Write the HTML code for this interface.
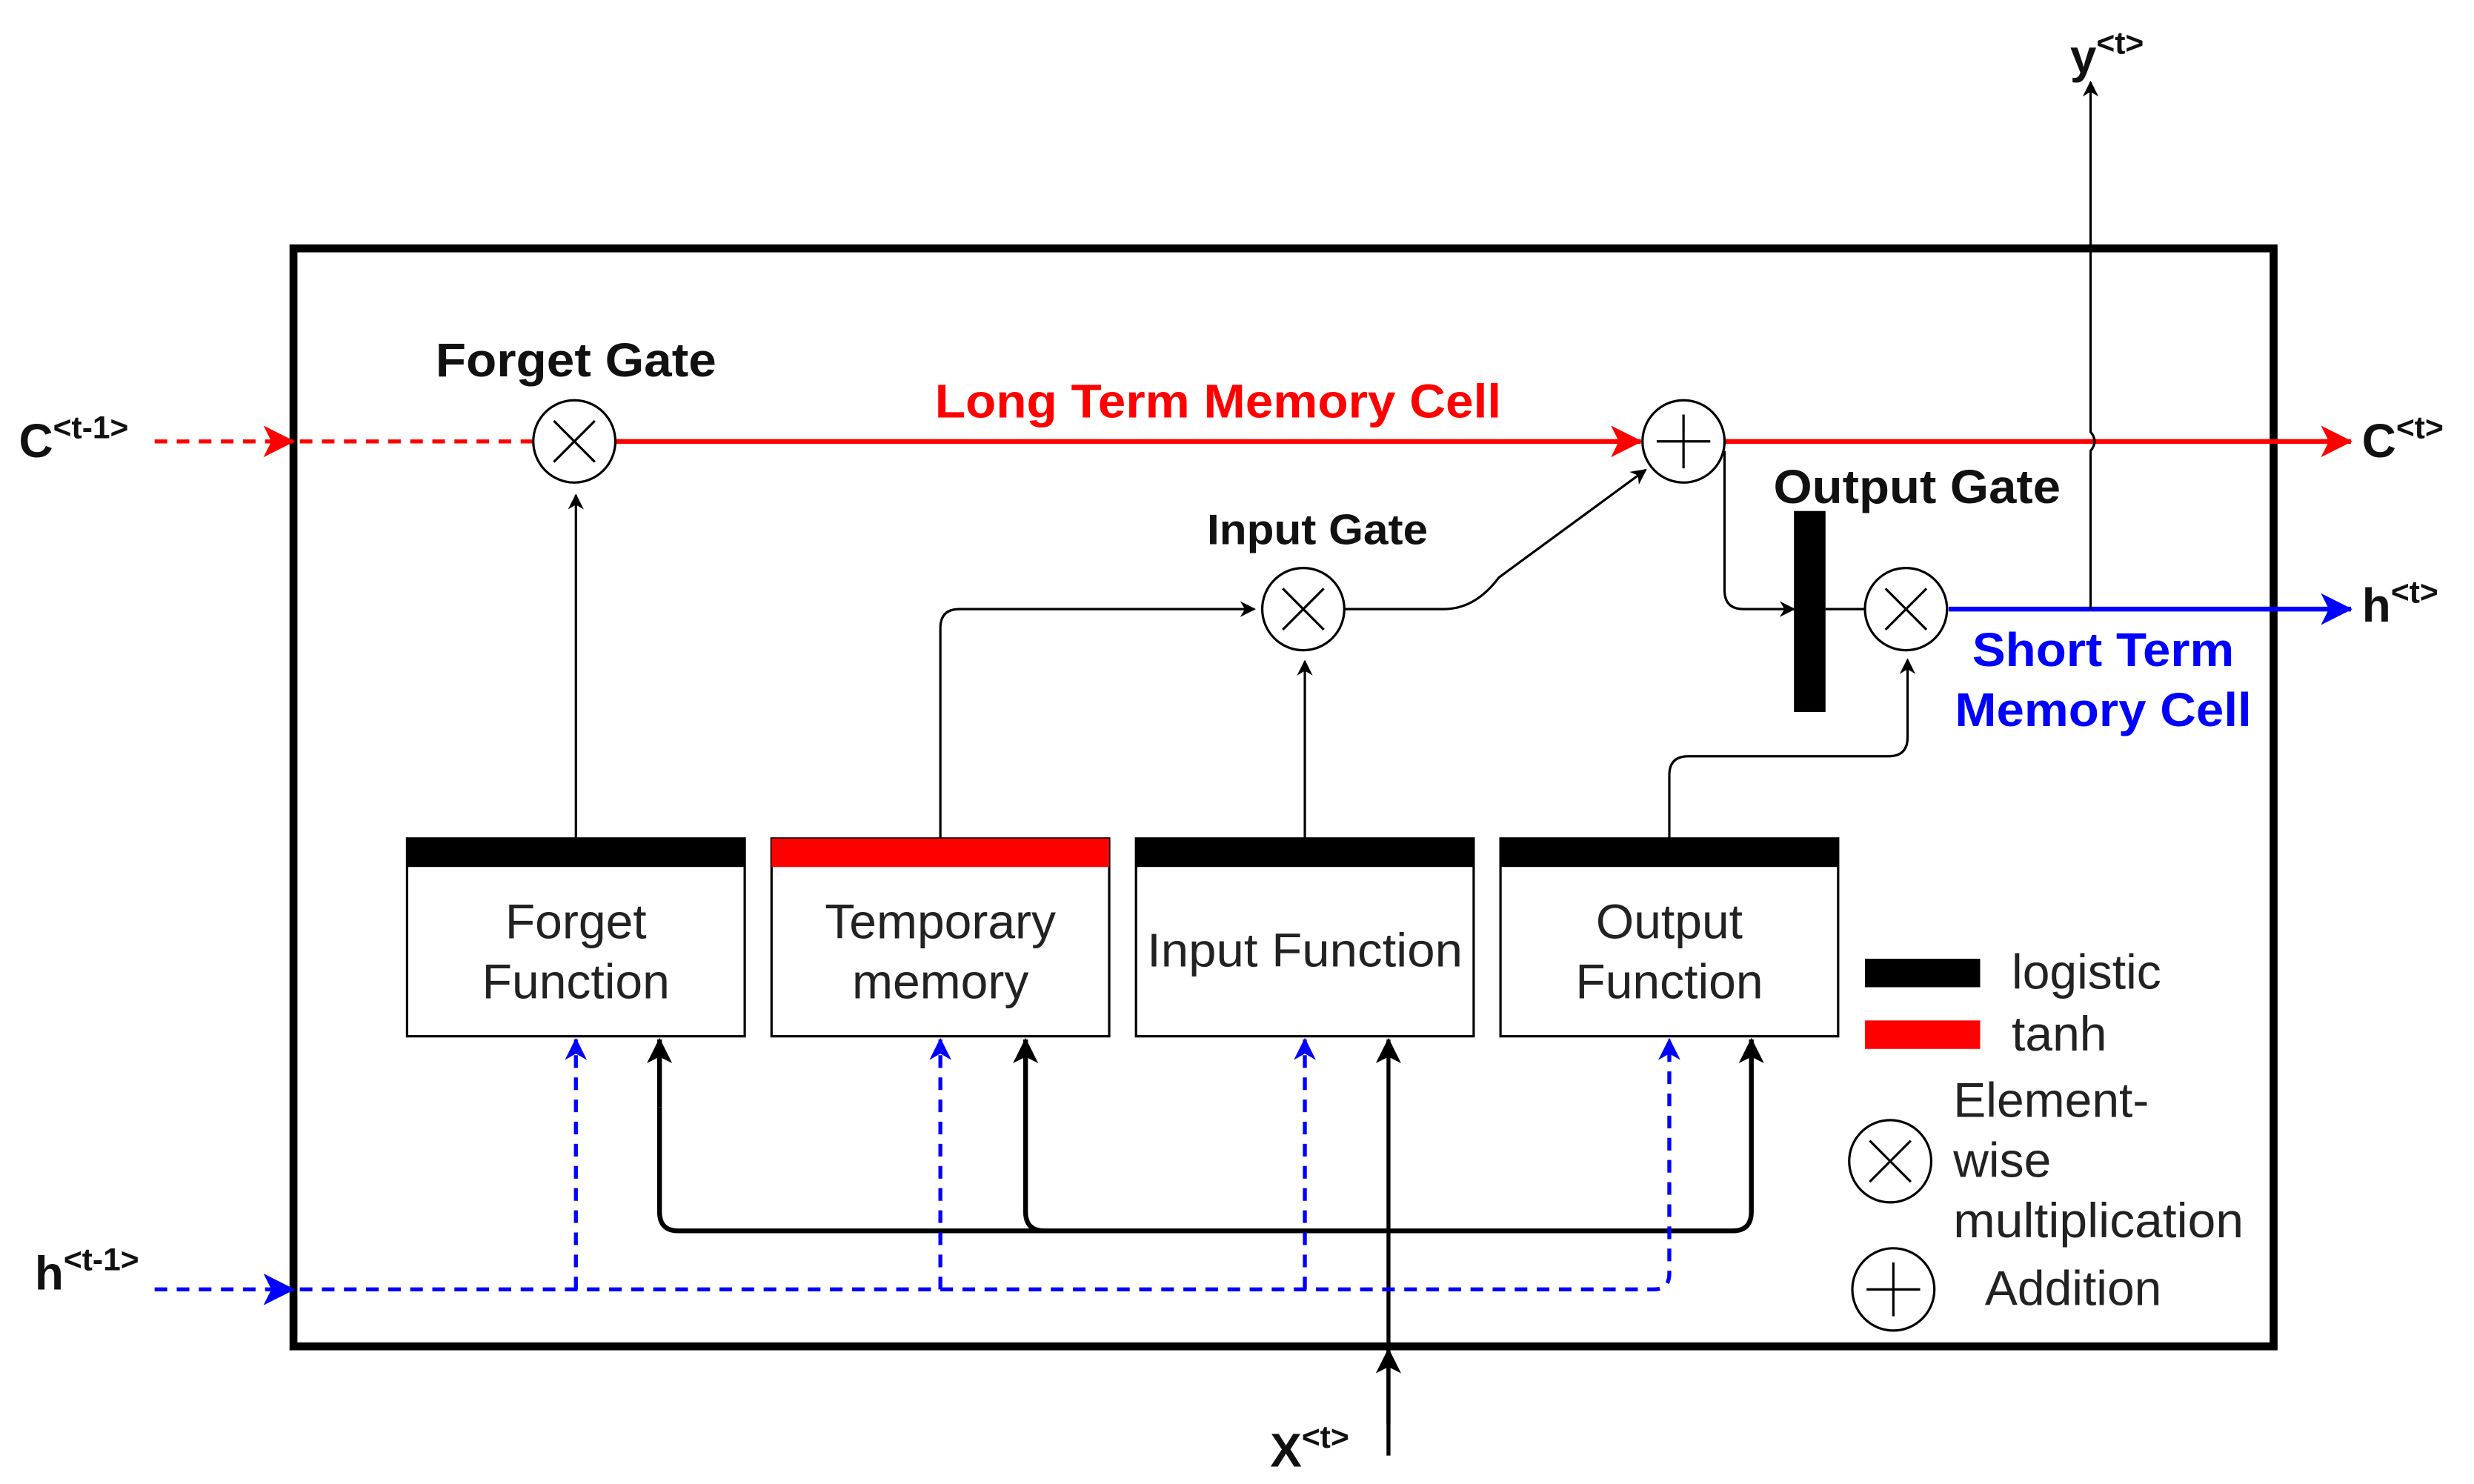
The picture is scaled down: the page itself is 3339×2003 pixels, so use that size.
<!DOCTYPE html>
<html><head><meta charset="utf-8"><style>
html,body{margin:0;padding:0;background:#fff;}
svg{display:block;}
text{font-family:"Liberation Sans",sans-serif;}
</style></head><body>
<svg width="3339" height="2003" viewBox="0 0 1568 938" preserveAspectRatio="none" xmlns="http://www.w3.org/2000/svg">
<defs>
<marker id="ar" markerWidth="10" markerHeight="10" refX="9" refY="5" orient="auto" markerUnits="userSpaceOnUse"><path d="M0,0 L10,5 L0,10 L3,5 Z" fill="#000"/></marker>
<marker id="arB" markerWidth="16" markerHeight="16" refX="15" refY="8" orient="auto" markerUnits="userSpaceOnUse"><path d="M0,0 L16,8 L0,16 L4,8 Z" fill="#000"/></marker>
<marker id="arR" markerWidth="20" markerHeight="20" refX="19" refY="10" orient="auto" markerUnits="userSpaceOnUse"><path d="M0,0 L20,10 L0,20 L5,10 Z" fill="#f00"/></marker>
<marker id="arBl" markerWidth="20" markerHeight="20" refX="19" refY="10" orient="auto" markerUnits="userSpaceOnUse"><path d="M0,0 L20,10 L0,20 L5,10 Z" fill="#00f"/></marker>
<marker id="arBs" markerWidth="14" markerHeight="14" refX="13" refY="7" orient="auto" markerUnits="userSpaceOnUse"><path d="M0,0 L14,7 L0,14 L4,7 Z" fill="#00f"/></marker>
</defs>
<rect x="186" y="157" width="1255" height="694" fill="none" stroke="#000" stroke-width="5"/>

<line x1="98" y1="279" x2="186" y2="279" stroke="#f00" stroke-width="2.5" stroke-dasharray="8,6" marker-end="url(#arR)"/>
<line x1="190" y1="279" x2="338" y2="279" stroke="#f00" stroke-width="2.5" stroke-dasharray="8,6"/>
<line x1="390" y1="279" x2="1040" y2="279" stroke="#f00" stroke-width="3" marker-end="url(#arR)"/>
<line x1="1093" y1="279" x2="1490" y2="279" stroke="#f00" stroke-width="3" marker-end="url(#arR)"/>

<line x1="1235" y1="385" x2="1490" y2="385" stroke="#00f" stroke-width="3" marker-end="url(#arBl)"/>
<path d="M1325,385 L1325,285 Q1330,279 1325,273 L1325,52" fill="none" stroke="#000" stroke-width="1.5" marker-end="url(#ar)"/>

<g fill="#fff" stroke="#000" stroke-width="1.5">
<circle cx="364" cy="279" r="26"/><circle cx="1067" cy="279" r="26"/><circle cx="826" cy="385" r="26"/><circle cx="1208" cy="385" r="26"/>
<circle cx="1198" cy="734" r="26"/><circle cx="1200" cy="815" r="26"/>
</g>
<g stroke="#000" stroke-width="1.5">
<path d="M351,266 L377,292 M377,266 L351,292"/>
<path d="M813,372 L839,398 M839,372 L813,398"/>
<path d="M1195,372 L1221,398 M1221,372 L1195,398"/>
<path d="M1185,721 L1211,747 M1211,721 L1185,747"/>
<path d="M1067,262 L1067,296 M1050,279 L1084,279"/>
<path d="M1200,798 L1200,832 M1183,815 L1217,815"/>
</g>

<rect x="1137" y="323" width="20" height="127" fill="#000"/>
<line x1="1157" y1="385" x2="1182" y2="385" stroke="#000" stroke-width="1.5"/>

<g fill="none" stroke="#000" stroke-width="1.5">
<line x1="365" y1="530" x2="365" y2="313" marker-end="url(#ar)"/>
<path d="M596,530 L596,397 Q596,385 608,385 L795,385" marker-end="url(#ar)"/>
<line x1="827" y1="530" x2="827" y2="418" marker-end="url(#ar)"/>
<path d="M852,385 L915,385 Q935,385 950,365 L1043,297" marker-end="url(#ar)"/>
<path d="M1093,285 L1093,373 Q1093,385 1105,385 L1137,385" marker-end="url(#ar)"/>
<path d="M1058,530 L1058,490 Q1058,478 1070,478 L1197,478 Q1209,478 1209,466 L1209,417" marker-end="url(#ar)"/>
</g>

<g stroke="#000" stroke-width="1.5" fill="#fff">
<rect x="258" y="530" width="214" height="125"/>
<rect x="489" y="530" width="214" height="125"/>
<rect x="720" y="530" width="214" height="125"/>
<rect x="951" y="530" width="214" height="125"/>
</g>
<rect x="258" y="530" width="214" height="18" fill="#000"/>
<rect x="489" y="530" width="214" height="18" fill="#f00"/>
<rect x="720" y="530" width="214" height="18" fill="#000"/>
<rect x="951" y="530" width="214" height="18" fill="#000"/>

<g font-size="31" fill="#222" text-anchor="middle">
<text x="365" y="593">Forget</text><text x="365" y="631">Function</text>
<text x="596" y="593">Temporary</text><text x="596" y="631">memory</text>
<text x="827" y="611" font-size="30" textLength="200" lengthAdjust="spacingAndGlyphs">Input Function</text>
<text x="1058" y="593">Output</text><text x="1058" y="631">Function</text>
</g>

<g fill="none" stroke="#000" stroke-width="3">
<path d="M418,700 L418,766 Q418,778 430,778 L1098,778 Q1110,778 1110,766 L1110,657" marker-end="url(#arB)"/>
<path d="M418,700 L418,657" marker-end="url(#arB)"/>
<path d="M662,778 Q650,778 650,766 L650,657" marker-end="url(#arB)"/>
<path d="M880,920 L880,657" stroke-width="2.5" marker-end="url(#arB)"/>
<path d="M880,900 L880,853" stroke-width="2.5" marker-end="url(#arB)"/>
</g>

<g fill="none" stroke="#00f" stroke-width="2.5" stroke-dasharray="8,6">
<line x1="98" y1="815" x2="186" y2="815" marker-end="url(#arBl)"/>
<path d="M190,815 L1048,815 Q1058,815 1058,805 L1058,657" marker-end="url(#arBs)"/>
<line x1="365" y1="815" x2="365" y2="657" marker-end="url(#arBs)"/>
<line x1="596" y1="815" x2="596" y2="657" marker-end="url(#arBs)"/>
<line x1="827" y1="815" x2="827" y2="657" marker-end="url(#arBs)"/>
</g>

<rect x="1182" y="606" width="73" height="18" fill="#000"/>
<rect x="1182" y="645" width="73" height="18" fill="#f00"/>
<g font-size="31" fill="#222">
<text x="1275" y="625">logistic</text>
<text x="1275" y="664">tanh</text>
<text x="1238" y="706">Element-</text>
<text x="1238" y="744">wise</text>
<text x="1238" y="782" textLength="184" lengthAdjust="spacingAndGlyphs">multiplication</text>
<text x="1258" y="825">Addition</text>
</g>

<g font-weight="bold" font-size="30" text-anchor="middle">
<text x="365" y="238" fill="#111" textLength="178" lengthAdjust="spacingAndGlyphs">Forget Gate</text>
<text x="772" y="264" fill="#f00" textLength="359" lengthAdjust="spacingAndGlyphs">Long Term Memory Cell</text>
<text x="835" y="344" fill="#111" font-size="27" textLength="140" lengthAdjust="spacingAndGlyphs">Input Gate</text>
<text x="1215" y="318" fill="#111" textLength="182" lengthAdjust="spacingAndGlyphs">Output Gate</text>
<text x="1333" y="421" fill="#00f" textLength="166" lengthAdjust="spacingAndGlyphs">Short Term</text>
<text x="1333" y="459" fill="#00f" textLength="188" lengthAdjust="spacingAndGlyphs">Memory Cell</text>
</g>

<g font-weight="bold" font-size="30" fill="#111">
<text x="12" y="289">C<tspan font-size="20" dy="-12">&lt;t-1&gt;</tspan></text>
<text x="1497" y="289">C<tspan font-size="20" dy="-12">&lt;t&gt;</tspan></text>
<text x="1497" y="393">h<tspan font-size="20" dy="-12">&lt;t&gt;</tspan></text>
<text x="22" y="815">h<tspan font-size="20" dy="-12">&lt;t-1&gt;</tspan></text>
<text x="1312" y="46">y<tspan font-size="20" dy="-12">&lt;t&gt;</tspan></text>
<text x="805" y="927">X<tspan font-size="20" dy="-12">&lt;t&gt;</tspan></text>
</g>
</svg>
</body></html>
